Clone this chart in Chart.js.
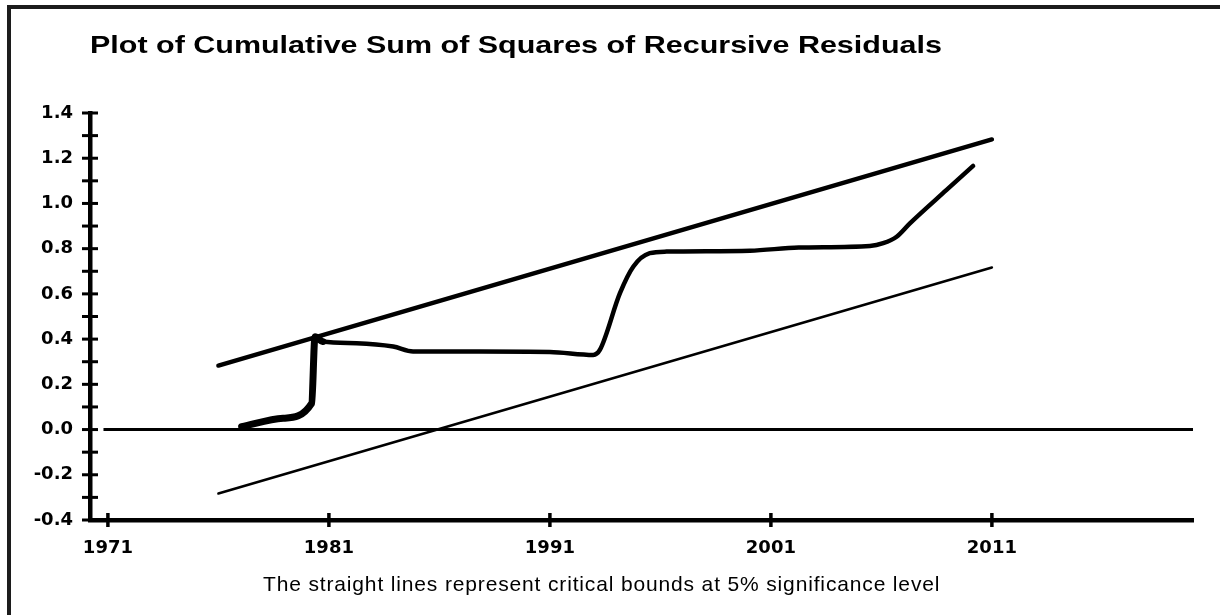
<!DOCTYPE html>
<html>
<head>
<meta charset="utf-8">
<script src="https://cdn.jsdelivr.net/npm/chart.js@4.4.1/dist/chart.umd.min.js"></script>
<style>
  html, body { margin: 0; padding: 0; background: #fff; }
  #wrap { position: relative; width: 1220px; height: 615px; overflow: hidden; background: #fff; }
  #frame { position: absolute; left: 7px; top: 5px; width: 1240px; height: 650px;
           border-top: 4px solid #1c1c1c; border-left: 4px solid #1c1c1c; }
  #chart { position: absolute; left: 0; top: 0; }
  #title { position: absolute; left: 90px; top: 32.6px; white-space: nowrap; color: #000;
           font: bold 24.5px/24.5px "Liberation Sans", Arial, sans-serif;
           transform: scaleX(1.244); transform-origin: 0 0; }
  #note { position: absolute; left: 263px; top: 573px; white-space: nowrap; color: #000;
          font: 21px/21px "Liberation Sans", Arial, sans-serif; letter-spacing: 0.85px; }
</style>
</head>
<body>
<div id="wrap">
  <div id="frame"></div>
  <canvas id="chart" width="1220" height="615"></canvas>
  <div id="title">Plot of Cumulative Sum of Squares of Recursive Residuals</div>
  <div id="note">The straight lines represent critical bounds at 5% significance level</div>
</div>
<script>
// ---- data ----
const cusumYears = [1977.05, 1978.93, 1980.22, 1980.37, 1980.73, 1982.25, 1983.91, 1984.81, 1987.83, 1991.0,
                    1992.96, 1993.26, 1994.17, 1994.77, 1995.52, 1996.28, 2000.05, 2002.26, 2005.48, 2006.08,
                    2006.69, 2007.29, 2008.95, 2010.15];
const cusumSq    = [0.013, 0.05, 0.116, 0.41, 0.389, 0.382, 0.367, 0.345, 0.345, 0.343,
                    0.33, 0.352, 0.603, 0.72, 0.78, 0.787, 0.791, 0.805, 0.812, 0.824,
                    0.853, 0.912, 1.06, 1.166];
const boundYears = [1976, 2011];
const upperBound = [0.283, 1.283];
const lowerBound = [-0.283, 0.717];
const zeroYears  = [1970.8, 2020.1];
const zeroLine   = [0, 0];
const xTickYears = [1971, 1981, 1991, 2001, 2011];
const yMin = -0.4, yMax = 1.4, yStep = 0.1;
const xMin = 1970.19, xMax = 2020.1;

const pts = (xs, ys) => xs.map((x, i) => ({ x: x, y: ys[i] }));

const tickFont = { family: '"DejaVu Sans", "Liberation Sans", sans-serif', size: 18, weight: 'bold' };

const axisMarks = {
  id: 'axisMarks',
  afterDraw(chart) {
    const ctx = chart.ctx, xs = chart.scales.x, ys = chart.scales.y;
    ctx.save();
    ctx.strokeStyle = '#000';
    ctx.lineWidth = 3;
    ys.ticks.forEach(t => {
      const py = ys.getPixelForValue(t.value);
      ctx.beginPath(); ctx.moveTo(ys.right - 8, py); ctx.lineTo(ys.right + 8, py); ctx.stroke();
    });
    ctx.lineWidth = 3.5;
    xs.ticks.forEach(t => {
      const px = xs.getPixelForValue(t.value);
      ctx.beginPath(); ctx.moveTo(px, xs.top - 7); ctx.lineTo(px, xs.top + 7); ctx.stroke();
    });
    ctx.restore();
  }
};

new Chart(document.getElementById('chart'), {
  type: 'line',
  data: {
    datasets: [
      { data: pts(zeroYears, zeroLine), borderColor: '#000', borderWidth: 3, pointRadius: 0, borderCapStyle: 'butt' },
      { data: pts(boundYears, lowerBound), borderColor: '#000', borderWidth: 2.5, pointRadius: 0, borderCapStyle: 'round' },
      { data: pts(boundYears, upperBound), borderColor: '#000', borderWidth: 4.5, pointRadius: 0, borderCapStyle: 'round' },
      { data: pts(cusumYears, cusumSq), borderColor: '#000', borderWidth: 4.5, pointRadius: 0,
        borderCapStyle: 'round', borderJoinStyle: 'round', cubicInterpolationMode: 'monotone',
        segment: { borderWidth: c => (c.p0.parsed.x < 1980.5 ? 7 : 4.5) } }
    ]
  },
  options: {
    responsive: false,
    animation: false,
    devicePixelRatio: 1,
    layout: { padding: { top: 113, right: 27, bottom: 0, left: 0 } },
    plugins: { legend: { display: false }, tooltip: { enabled: false }, title: { display: false } },
    scales: {
      x: {
        type: 'linear', min: xMin, max: xMax,
        afterBuildTicks: s => { s.ticks = xTickYears.map(v => ({ value: v })); },
        afterFit: s => { s.height = 95; },
        ticks: { font: tickFont, color: '#000', padding: 18, maxRotation: 0, autoSkip: false,
                 callback: v => String(v) },
        grid: { display: true, drawOnChartArea: false, drawTicks: false },
        border: { display: true, width: 4.5, color: '#000' }
      },
      y: {
        type: 'linear', min: yMin, max: yMax,
        afterFit: s => { s.width = 90; },
        ticks: { stepSize: yStep, font: tickFont, color: '#000', padding: 17, autoSkip: false,
                 callback: v => { const k = Math.round(v * 10); return k % 2 === 0 ? (k / 10).toFixed(1) : ''; } },
        grid: { display: true, drawOnChartArea: false, drawTicks: false },
        border: { display: true, width: 4.5, color: '#000' }
      }
    }
  },
  plugins: [axisMarks]
});
</script>
</body>
</html>
